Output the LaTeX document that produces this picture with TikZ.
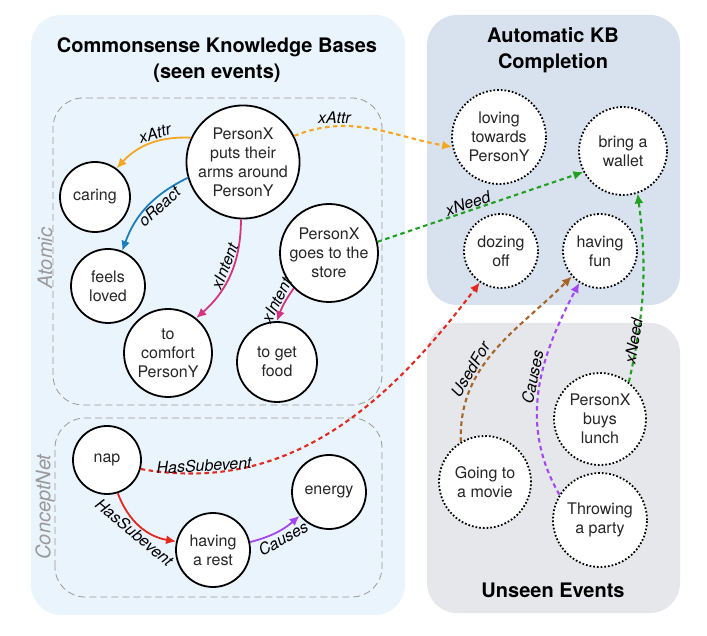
\documentclass[tikz,border=0pt]{standalone}
\usepackage{fontspec}
\setmainfont{TeX Gyre Heros}
\usepackage{tikz}
\usetikzlibrary{arrows.meta}
\usepackage{xcolor}
\definecolor{fondoKB}{HTML}{EAF4FD}
\definecolor{fondoAuto}{HTML}{D8E2EE}
\definecolor{fondoNuovi}{HTML}{E6E7EA}
\definecolor{arancio}{HTML}{F5A623}
\definecolor{blu}{HTML}{1C7DBF}
\definecolor{magenta}{HTML}{D2347F}
\definecolor{verde}{HTML}{21A021}
\definecolor{rosso}{HTML}{E3281E}
\definecolor{viola}{HTML}{A348F0}
\definecolor{marrone}{HTML}{A5652A}

\begin{document}
\begin{tikzpicture}[x=1pt, y=1pt,
    evento/.style={circle, draw=black, line width=1.8pt, fill=white, align=center, inner sep=0pt, text=black!85, font=\fontsize{16}{19}\selectfont},
    nuovo/.style={evento, dash pattern=on 1.7pt off 2pt},
    rel/.style={line width=1.8pt, -{Latex[length=10pt,width=9pt]}},
    relnuova/.style={rel, line width=2.1pt, dash pattern=on 4.5pt off 3.5pt},
    etich/.style={font=\fontsize{16}{18}\selectfont\itshape, inner sep=1.5pt},
    riquadro/.style={draw=gray!80, dash pattern=on 7pt off 4pt, line width=0.8pt, rounded corners=30pt},
    titolo/.style={font=\fontsize{20}{26}\selectfont\bfseries, align=center},
    sezione/.style={font=\fontsize{20}{24}\selectfont\itshape, text=gray!80, rotate=90}]
    \useasboundingbox (0,0) rectangle (707,635);

    % Pannelli
    \fill[fondoKB, rounded corners=30pt] (31,20) rectangle (405,620);
    \fill[fondoAuto, rounded corners=30pt] (427,330) rectangle (680,620);
    \fill[fondoNuovi, rounded corners=30pt] (427,22) rectangle (680,312);
    \draw[riquadro] (53,230) rectangle (382,537);
    \draw[riquadro] (55,38) rectangle (382,217);
    \node[titolo] (titoloKB) at (217,575) {Commonsense Knowledge Bases\\(seen events)};
    \node[titolo] (titoloAuto) at (553,585) {Automatic KB\\Completion};
    \node[titolo] (titoloNuovi) at (553,45) {Unseen Events};
    \node[sezione] (atomic) at (45,377) {Atomic};
    \node[sezione] (conceptnet) at (45,128) {ConceptNet};

    % Eventi visti
    \node[evento, minimum size=110pt] (braccia) at (243,473) {PersonX\\puts their\\arms around\\PersonY};
    \node[evento, minimum size=70pt] (caring) at (95,438) {caring};
    \node[evento, minimum size=74pt] (amato) at (108,349) {feels\\loved};
    \node[evento, minimum size=88pt] (conforto) at (168,282) {to\\comfort\\PersonY};
    \node[evento, minimum size=98pt] (negozio) at (329,382) {PersonX\\goes to the\\store};
    \node[evento, minimum size=80pt] (cibo) at (277,273) {to get\\food};
    \node[evento, minimum size=68pt] (pisolino) at (107,175) {nap};
    \node[evento, minimum size=74pt] (riposo) at (213,85) {having\\a rest};
    \node[evento, minimum size=74pt] (energia) at (329,143) {energy};

    % Completamento
    \node[nuovo, minimum size=94pt] (affetto) at (499,498) {loving\\towards\\PersonY};
    \node[nuovo, minimum size=88pt] (portafoglio) at (623,484) {bring a\\wallet};
    \node[nuovo, minimum size=74pt] (sonnecchia) at (501,384) {dozing\\off};
    \node[nuovo, minimum size=74pt] (divertimento) at (600,384) {having\\fun};

    % Eventi nuovi
    \node[nuovo, minimum size=92pt] (film) at (485,153) {Going to\\a movie};
    \node[nuovo, minimum size=92pt] (pranzo) at (600,216) {PersonX\\buys\\lunch};
    \node[nuovo, minimum size=94pt] (festa) at (600,115) {Throwing\\a party};

    % Relazioni viste
    \draw[rel, arancio] (braccia.155) to[bend right=25] node[etich, text=black, sloped, above, pos=0.4] (lAttrA) {xAttr} (caring.53);
    \draw[rel, blu] (braccia.196) to[bend right=22] node[etich, text=black, sloped, below, pos=0.4] (lReact) {oReact} (amato.68);
    \draw[rel, magenta] (braccia.268) to[bend left=24] node[etich, text=black, sloped, above, pos=0.45] (lIntentA) {xIntent} (conforto.51);
    \draw[rel, magenta] (negozio.225) to[bend right=8] node[etich, text=black, sloped, above, pos=0.5] (lIntentB) {xIntent} (cibo.90);
    \draw[rel, rosso] (pisolino.288) to[bend right=30] node[etich, text=black, sloped, below, pos=0.5] (lSubA) {HasSubevent} (riposo.167);
    \draw[rel, viola] (riposo.12) to[bend right=13] node[etich, text=black, sloped, below, pos=0.55] (lCauseA) {Causes} (energia.219);

    % Relazioni dedotte
    \draw[relnuova, arancio] (braccia.27) to[out=22, in=170] node[etich, text=black, above, pos=0.25] (lAttrB) {xAttr} (affetto.192);
    \draw[relnuova, verde] (negozio.13) -- node[etich, text=black, sloped, above=-1pt, pos=0.45] (lNeedA) {xNeed} (portafoglio.208);
    \draw[relnuova, rosso] (pisolino.345) to[out=-10, in=233] node[etich, text=black, sloped, above=-1pt, pos=0.15] (lSubB) {HasSubevent} (sonnecchia.236);
    \draw[relnuova, marrone] (film.121) to[out=92, in=225] node[etich, text=black, sloped, above, pos=0.35] (lUsed) {UsedFor} (divertimento.222);
    \draw[relnuova, viola] (festa.148) to[out=120, in=242] node[etich, text=black, sloped, above, pos=0.55] (lCauseB) {Causes} (divertimento.237);
    \draw[relnuova, verde] (pranzo.52) to[bend right=10] node[etich, text=black, sloped, above=-5pt, pos=0.2] (lNeedB) {xNeed} (portafoglio.289);
\end{tikzpicture}
\end{document}
